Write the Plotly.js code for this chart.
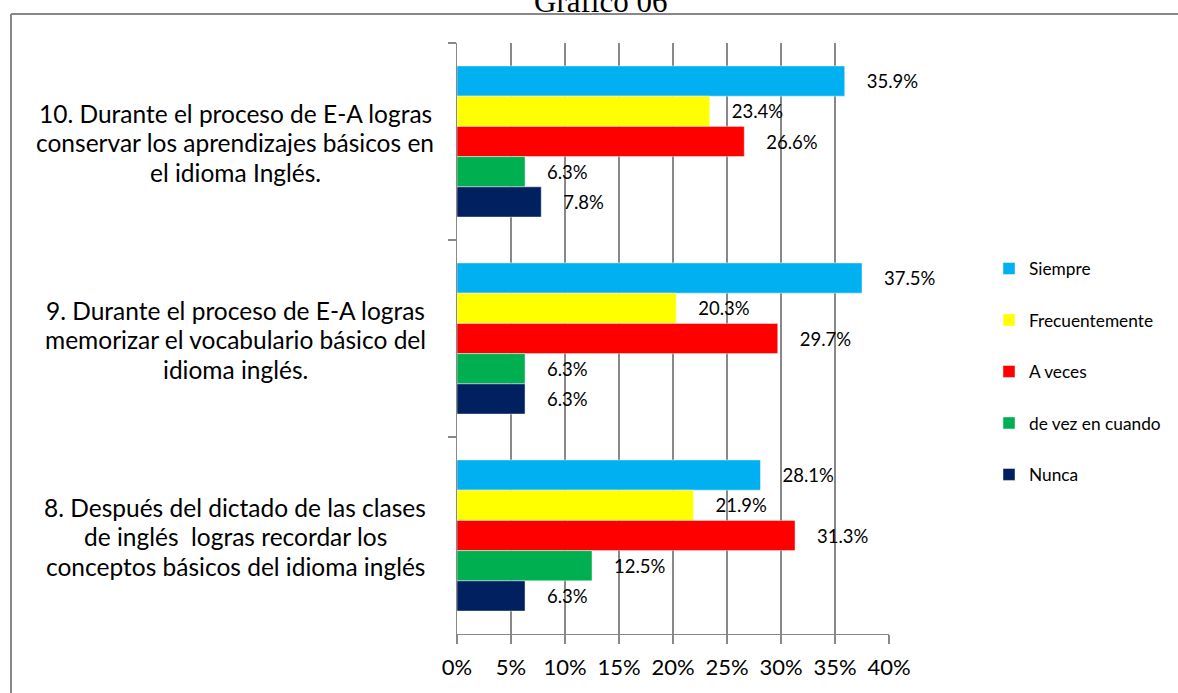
<!DOCTYPE html>
<html>
<head>
<meta charset="utf-8">
<script src="https://cdn.plot.ly/plotly-3.0.1.min.js"></script>
<style>
  html, body { margin: 0; padding: 0; background: #ffffff; overflow: hidden; }
  #chart { position: absolute; left: 0; top: 0; width: 1178px; height: 693px; }
</style>
</head>
<body>
<div id="chart"></div>
<script>
// Categories (top to bottom)
const categories = [
  "10. Durante el proceso de E-A logras<br>conservar los aprendizajes básicos en<br>el idioma Inglés.",
  "9. Durante el proceso de E-A logras<br>memorizar el vocabulario básico del<br>idioma inglés.",
  "8. Después del dictado de las clases<br>de inglés  logras recordar los<br>conceptos básicos del idioma inglés"
];
const seriesNames = ["Siempre", "Frecuentemente", "A veces", "de vez en cuando", "Nunca"];
const seriesColors = ["#00B0F0", "#FFFF00", "#FF0000", "#00B050", "#002060"];
// values in %, per series, in category order above
const siempre        = [35.9, 37.5, 28.1];
const frecuentemente = [23.4, 20.3, 21.9];
const aVeces         = [26.6, 29.7, 31.3];
const deVezEnCuando  = [6.3, 6.3, 12.5];
const nunca          = [7.8, 6.3, 6.3];
const seriesValues = [siempre, frecuentemente, aVeces, deVezEnCuando, nunca];
const xTickValues = [0, 5, 10, 15, 20, 25, 30, 35, 40];
const xTickLabels = ["0%", "5%", "10%", "15%", "20%", "25%", "30%", "35%", "40%"];
const chartTitle = "Gráfico 06";

const FONT = "Lato, 'Open Sans', sans-serif";
const GRID = "#888888";

// plot-area geometry (pixels) used to place frame / title / labels in paper units
const L = 457, T = 43, PW = 432, PH = 591;
const px2x = p => (p - L) / PW;
const py2y = p => 1 - (p - T) / PH;

const traces = seriesNames.map((name, i) => ({
  type: "bar",
  orientation: "h",
  name: name,
  legendgroup: "g" + i,
  y: categories,
  x: seriesValues[i],
  marker: { color: seriesColors[i], line: { color: "rgba(255,255,255,0.45)", width: 1 } },
  texttemplate: "\u200b\u00a0\u00a0\u00a0\u00a0%{x:.1f}%",
  textposition: "outside",
  constraintext: "none",
  cliponaxis: false,
  textfont: { family: FONT, size: 18.5, color: "#000000" },
  hoverinfo: "skip"
}));

// category labels: one centred annotation per text line
const LINE_H = 29.5;
const annotations = [];
categories.forEach(c => {
  const lines = c.split("<br>");
  lines.forEach((ln, j) => {
    annotations.push({
      text: ln.replace(/  /g, " \u00a0"),
      xref: "paper", yref: "y",
      x: px2x(235), y: c,
      xanchor: "center", yanchor: "middle",
      yshift: -(j - (lines.length - 1) / 2) * LINE_H - 1,
      showarrow: false,
      font: { family: FONT, size: 24.5, color: "#000000" }
    });
  });
});
// chart title (mostly cut off by the top edge, as in the original)
annotations.push({
  text: chartTitle,
  xref: "paper", yref: "paper",
  x: px2x(600), y: py2y(21),
  xanchor: "center", yanchor: "bottom",
  showarrow: false,
  font: { family: "'Liberation Serif', 'Times New Roman', serif", size: 31, color: "#000000" }
});

// outer chart frame (top and left edges visible)
const shapes = [
  { type: "line", xref: "paper", yref: "paper", x0: px2x(11), x1: px2x(1200), y0: py2y(14), y1: py2y(14),
    line: { color: "#888888", width: 2 } },
  { type: "line", xref: "paper", yref: "paper", x0: px2x(11), x1: px2x(11), y0: py2y(14), y1: py2y(720),
    line: { color: "#888888", width: 2 } }
];

const layout = {
  width: 1178, height: 693,
  paper_bgcolor: "#ffffff",
  plot_bgcolor: "rgba(0,0,0,0)",
  margin: { l: L, r: 1178 - L - PW, t: T, b: 693 - T - PH, pad: 0, autoexpand: false },
  barmode: "group",
  bargap: 0.233,
  bargroupgap: 0,
  showlegend: true,
  xaxis: {
    range: [0, 40],
    tickvals: xTickValues,
    ticktext: xTickLabels,
    showgrid: true, gridcolor: GRID, gridwidth: 1.3,
    zeroline: false,
    showline: true, linecolor: GRID, linewidth: 1.3,
    ticks: "outside", ticklen: 9, tickcolor: GRID, tickwidth: 1.3,
    ticklabelstandoff: 4,
    tickfont: { family: FONT, size: 22, color: "#000000" },
    fixedrange: true
  },
  yaxis: {
    type: "category",
    autorange: "reversed",
    tickson: "boundaries",
    showticklabels: false,
    showgrid: false,
    zeroline: false,
    showline: true, linecolor: GRID, linewidth: 1.3,
    ticks: "outside", ticklen: 8, tickcolor: GRID, tickwidth: 1.3,
    fixedrange: true
  },
  legend: {
    x: px2x(989), xanchor: "left",
    y: 0.6485, yanchor: "top",
    traceorder: "grouped",
    tracegroupgap: 26,
    font: { family: FONT, size: 17.3, color: "#000000" },
    bgcolor: "rgba(0,0,0,0)",
    itemclick: false, itemdoubleclick: false
  },
  shapes: shapes,
  annotations: annotations
};

Plotly.newPlot("chart", traces, layout, { displayModeBar: false, staticPlot: true });
</script>
</body>
</html>
